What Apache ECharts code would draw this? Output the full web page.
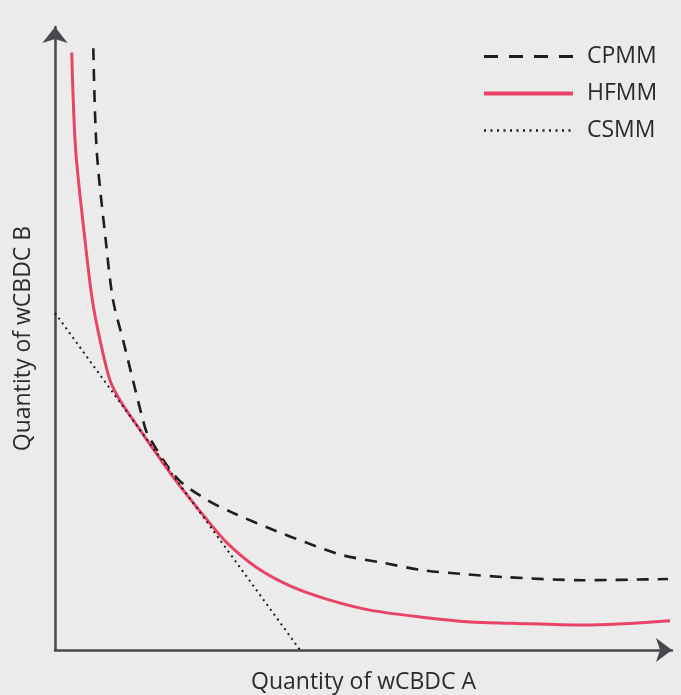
<!DOCTYPE html>
<html>
<head>
<meta charset="utf-8">
<script src="https://cdn.jsdelivr.net/npm/echarts@6/dist/echarts.min.js"></script>
<style>
html,body{margin:0;padding:0;background:#ebebeb;}
#c{width:681px;height:695px;}
</style>
</head>
<body>
<div id="c"></div>
<script>
const seriesNames = ['CPMM', 'HFMM', 'CSMM'];
const xAxisName = 'Quantity of wCBDC A';
const yAxisName = 'Quantity of wCBDC B';

const cpmm = [
  [0.621, 9.66], [0.675, 8.03], [0.822, 6.58], [0.940, 5.62], [1.102, 4.98],
  [1.264, 4.33], [1.426, 3.69], [1.507, 3.45], [1.977, 2.76], [2.464, 2.41],
  [2.885, 2.20], [3.533, 1.93], [4.084, 1.72], [4.668, 1.52], [5.316, 1.40],
  [5.964, 1.28], [6.613, 1.22], [7.293, 1.17], [8.558, 1.12], [9.935, 1.14]
];
const hfmm = [
  [0.271, 9.59], [0.335, 8.03], [0.486, 6.58], [0.605, 5.62], [0.729, 4.98],
  [0.891, 4.33], [1.053, 4.01], [1.345, 3.58], [1.491, 3.37], [1.912, 2.78],
  [2.464, 2.09], [2.788, 1.72], [3.274, 1.32], [3.809, 1.03], [4.457, 0.80],
  [5.105, 0.64], [5.916, 0.53], [6.726, 0.45], [7.374, 0.43], [8.558, 0.40],
  [9.968, 0.47]
];
const csmm = [[0, 5.41], [3.971, 0]];

const chart = echarts.init(document.getElementById('c'), null, {renderer: 'canvas'});
const axisColor = '#46484d';
const textColor = '#2b2b2b';
const font = "'Open Sans', sans-serif";
const dark = '#1e1e1e';
const red = '#e94467';

chart.setOption({
  backgroundColor: '#ebebeb',
  animation: false,
  textStyle: {fontFamily: font},
  grid: {left: 55, top: 27, right: 9, bottom: 45, containLabel: false, outerBoundsMode: 'none'},
  legend: {
    orient: 'vertical',
    left: 477,
    top: 40,
    align: 'left',
    itemWidth: 89,
    itemHeight: 22,
    itemGap: 14,
    itemStyle: {opacity: 0},
    textStyle: {fontSize: 23, color: textColor, fontFamily: font, padding: [0, 0, 0, 9], lineHeight: 22},
    data: [
      {name: seriesNames[0], lineStyle: {color: dark, width: 3, type: [14, 11]}},
      {name: seriesNames[1], lineStyle: {color: red, width: 4, type: 'solid'}},
      {name: seriesNames[2], lineStyle: {color: dark, width: 2.5, type: [2, 4.5]}}
    ]
  },
  xAxis: {
    type: 'value', min: 0, max: 10,
    name: xAxisName, nameLocation: 'middle', nameGap: 21,
    nameTextStyle: {fontSize: 23, color: textColor, fontFamily: font},
    axisLine: {show: true, onZero: false, lineStyle: {color: axisColor, width: 2.5},
      symbol: ['none', 'arrow'], symbolSize: [18, 16]},
    axisTick: {show: false}, axisLabel: {show: false}, splitLine: {show: false}
  },
  yAxis: {
    type: 'value', min: 0, max: 10,
    name: yAxisName, nameLocation: 'middle', nameGap: 20,
    nameTextStyle: {fontSize: 23, color: textColor, fontFamily: font},
    axisLine: {show: true, onZero: false, lineStyle: {color: axisColor, width: 2.5},
      symbol: ['none', 'arrow'], symbolSize: [19, 16]},
    axisTick: {show: false}, axisLabel: {show: false}, splitLine: {show: false}
  },
  series: [
    {name: seriesNames[0], type: 'line', data: cpmm, showSymbol: false, symbol: 'none', smooth: 0.3,
     itemStyle: {color: dark},
     lineStyle: {color: dark, width: 2.6, type: [12, 9]}},
    {name: seriesNames[1], type: 'line', data: hfmm, showSymbol: false, symbol: 'none', smooth: 0.3,
     itemStyle: {color: red},
     lineStyle: {color: red, width: 3}},
    {name: seriesNames[2], type: 'line', data: csmm, showSymbol: false, symbol: 'none',
     itemStyle: {color: dark},
     lineStyle: {color: dark, width: 2, type: [2, 4]}}
  ]
});
</script>
</body>
</html>
